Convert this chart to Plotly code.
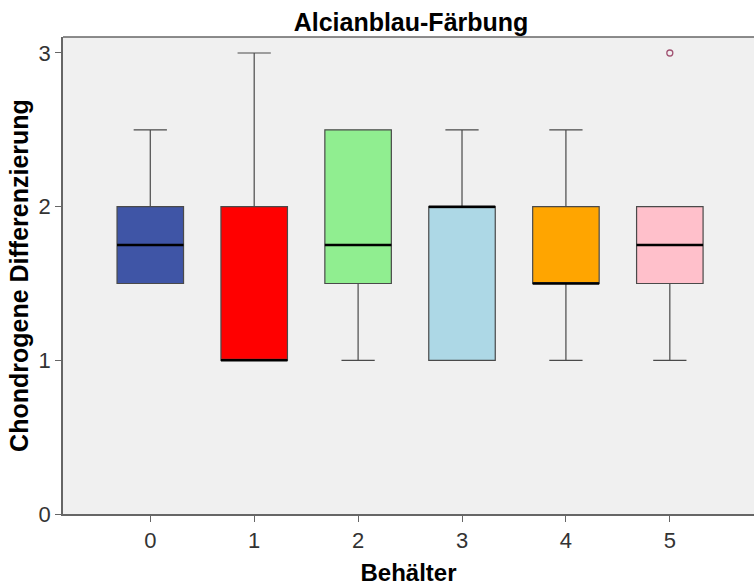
import plotly.graph_objects as go

categories = [0, 1, 2, 3, 4, 5]
lower_whisker = [1.5, 1.0, 1.0, 1.0, 1.0, 1.0]
q1 = [1.5, 1.0, 1.5, 1.0, 1.5, 1.5]
median = [1.75, 1.0, 1.75, 2.0, 1.5, 1.75]
q3 = [2.0, 2.0, 2.5, 2.0, 2.0, 2.0]
upper_whisker = [2.5, 3.0, 2.5, 2.5, 2.5, 2.0]
outlier_x = [5]
outlier_y = [3.0]
colors = ["#3f55a6", "#ff0000", "#90ee90", "#add8e6", "#ffa500", "#ffc0cb"]

BOX_W = 0.64
FONT = "Liberation Sans, Arial, sans-serif"

fig = go.Figure()
for i, c in enumerate(categories):
    fig.add_trace(go.Box(
        x=[c], q1=[q1[i]], median=[median[i]], q3=[q3[i]],
        lowerfence=[lower_whisker[i]], upperfence=[upper_whisker[i]],
        fillcolor=colors[i], line=dict(color="#4a4a4a", width=1.2),
        width=BOX_W, whiskerwidth=0.5, boxpoints=False,
        showlegend=False, hoverinfo="skip",
    ))
    fig.add_trace(go.Scatter(
        x=[c - BOX_W / 2, c + BOX_W / 2], y=[median[i], median[i]],
        mode="lines", line=dict(color="black", width=2.5),
        showlegend=False, hoverinfo="skip",
    ))

fig.add_trace(go.Scatter(
    x=outlier_x, y=outlier_y, mode="markers",
    marker=dict(symbol="circle-open", size=6, color="#a05070", line=dict(width=1.3)),
    showlegend=False, hoverinfo="skip",
))

fig.update_layout(
    width=754, height=587,
    margin=dict(l=63, r=0, t=37, b=73),
    paper_bgcolor="white", plot_bgcolor="#f0f0f0",
    title=dict(text="<b>Alcianblau-Färbung</b>", x=411 / 754, xanchor="center",
               y=1 - 22 / 587, yanchor="middle",
               font=dict(family=FONT, size=25, color="black")),
    font=dict(family=FONT, color="#333333"),
    shapes=[dict(type="line", xref="paper", yref="paper", x0=0, x1=1, y0=1, y1=1,
                 line=dict(color="#666666", width=1.5), layer="above")],
)
fig.update_xaxes(
    range=[-0.84, 5.81], tickmode="array", tickvals=categories,
    ticktext=[str(c) for c in categories],
    ticks="outside", ticklen=6, tickcolor="#666666",
    tickfont=dict(size=22, color="#333333"),
    showgrid=False, zeroline=False,
    showline=True, linecolor="#666666", linewidth=1.5,
    title=dict(text="<b>Behälter</b>", font=dict(family=FONT, size=24, color="black"), standoff=12),
)
fig.update_yaxes(
    range=[0, 3.104], tickmode="array", tickvals=[0, 1, 2, 3],
    ticks="outside", ticklen=6, tickcolor="#666666",
    tickfont=dict(size=22, color="#333333"),
    showgrid=False, zeroline=False,
    showline=True, linecolor="#666666", linewidth=1.5,
    title=dict(text="<b>Chondrogene Differenzierung</b>", font=dict(family=FONT, size=25, color="black"), standoff=3),
)

fig.write_html("out.html")
